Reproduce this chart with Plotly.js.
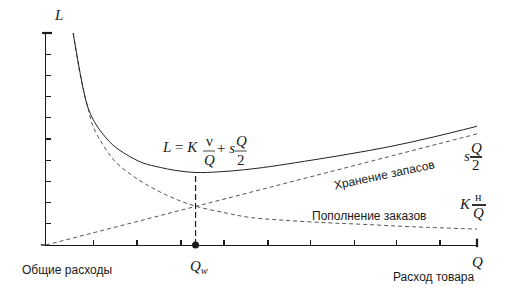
<!DOCTYPE html>
<html>
<head>
<meta charset="utf-8">
<script src="https://cdn.plot.ly/plotly-3.0.1.min.js"></script>
<style>html,body{margin:0;padding:0;background:#fff;}#chart{width:513px;height:290px;}</style>
</head>
<body>
<div id="chart"></div>
<script>
// Total cost curve L (solid)
const Q_TOTAL = [0.63, 0.74, 0.85, 0.97, 1.1, 1.25, 1.55, 1.88, 2.25, 2.65, 3.0, 3.46, 4.0, 4.6, 5.2, 6.0, 7.0, 8.0, 9.0, 10.0];
const L_TOTAL = [10.0, 8.7, 7.5, 6.5, 5.9, 5.42, 4.72, 4.25, 3.87, 3.66, 3.52, 3.42, 3.45, 3.55, 3.7, 3.95, 4.28, 4.65, 5.1, 5.6];
// Ordering cost curve K*н/Q (dashed)
const Q_ORDER = [0.63, 0.75, 0.87, 0.97, 1.09, 1.3, 1.6, 2.13, 2.8, 3.46, 4.2, 4.73, 5.5, 6.5, 7.3, 8.5, 10.0];
const L_ORDER = [10.0, 8.5, 7.3, 6.5, 5.6, 4.8, 3.95, 3.1, 2.35, 1.84, 1.5, 1.3, 1.17, 1.05, 0.98, 0.86, 0.75];
// Storage cost line sQ/2 (dashed)
const Q_STORE = [0, 10];
const L_STORE = [0, 5.24];
// Optimum order quantity
const Q_OPT = [3.47, 3.47];
const L_OPT = [0, 3.42];
// Ticks
const X_TICKS = [1.11, 2.11, 3.13, 4.13, 5.15, 6.13, 7.15, 8.14, 9.14];
const Y_TICKS = [1, 2, 3, 4, 5, 6, 7, 8, 9];
const X_END = 10, Y_END = 10;

const SERIF = '"Liberation Serif", "DejaVu Serif", serif';
const SANS = '"Liberation Sans", Arial, sans-serif';
const INK = '#1a1a1a';

const traces = [
  {x: Q_STORE, y: L_STORE, mode: 'lines', line: {color: '#555', width: 1, dash: '4px,3px'}, hoverinfo: 'skip'},
  {x: Q_ORDER, y: L_ORDER, mode: 'lines', line: {color: '#555', width: 1, dash: '4px,3px', shape: 'spline'}, hoverinfo: 'skip'},
  {x: Q_TOTAL, y: L_TOTAL, mode: 'lines', line: {color: '#222', width: 1, shape: 'spline'}, hoverinfo: 'skip'},
  {x: Q_OPT, y: L_OPT, mode: 'lines', line: {color: INK, width: 1.2, dash: '6px,3px'}, hoverinfo: 'skip'},
  {x: [Q_OPT[0]], y: [0], mode: 'markers', marker: {color: INK, size: 7}, cliponaxis: false, hoverinfo: 'skip'}
];

// pixel -> paper helpers (plot area: x 46..477, y 33..245)
function px2x(p){ return (p - 46) / 431; }
function px2y(p){ return (245 - p) / 212; }

function txt(text, px, py, opts) {
  opts = opts || {};
  return Object.assign({
    text: text, x: px2x(px), y: px2y(py), xref: 'paper', yref: 'paper',
    showarrow: false, xanchor: 'center', yanchor: 'middle',
    font: {family: SERIF, size: 15, color: INK}
  }, opts);
}
function bar(x0, x1, py, w) {
  return {type: 'line', xref: 'paper', yref: 'paper', x0: px2x(x0), x1: px2x(x1), y0: px2y(py), y1: px2y(py),
          line: {color: INK, width: w || 1}};
}

const annotations = [
  txt('<i>L</i>', 52, 15, {xanchor: 'left'}),
  // formula L = K н/Q + s Q/2
  txt('<i>L</i> = <i>K</i>', 200, 147, {xanchor: 'right'}),
  txt('ν', 209, 141, {font: {family: SERIF, size: 15, color: INK}}),
  txt('<i>Q</i>', 209, 160),
  txt('+ <i>s</i>', 226, 148),
  txt('<i>Q</i>', 241, 141),
  txt('2', 241, 160),
  // s Q/2 label
  txt('<i>s</i>', 467, 156),
  txt('<i>Q</i>', 476, 148),
  txt('2', 476, 165),
  // K н/Q label
  txt('<i>K</i>', 465, 204),
  txt('н', 479, 197, {font: {family: SERIF, size: 12, color: INK}}),
  txt('<i>Q</i>', 479, 213),
  // axis annotations
  txt('<i>Q</i><sub><i>w</i></sub>', 199, 267),
  txt('<i>Q</i>', 477, 262),
  txt('Расход товара', 477, 277, {xanchor: 'right', font: {family: SANS, size: 12, color: INK}}),
  txt('Общие расходы', 67, 270, {font: {family: SANS, size: 12, color: INK}}),
  // curve labels
  txt('Хранение запасов', 384, 175, {textangle: -12, font: {family: SANS, size: 12, color: INK}}),
  txt('Пополнение заказов', 369, 216, {font: {family: SANS, size: 12, color: INK}})
];

const shapes = [
  bar(203, 215, 151, 0.8),
  bar(235, 247, 151, 0.8),
  bar(470, 482, 157, 1.8),
  bar(472, 486, 205, 1.8),
  // thick axis ends
  {type: 'line', xref: 'paper', yref: 'paper', x0: -0.009, x1: 0.014, y0: 1, y1: 1, line: {color: INK, width: 2.2}},
  {type: 'line', xref: 'paper', yref: 'paper', x0: 1, x1: 1, y0: -0.01, y1: 0.03, line: {color: INK, width: 2.2}},
  {type: 'line', xref: 'paper', yref: 'paper', x0: -0.012, x1: 0, y0: 0, y1: 0, line: {color: INK, width: 1.4}}
];

const layout = {
  width: 513, height: 290,
  margin: {l: 46, r: 36, t: 33, b: 45},
  paper_bgcolor: '#fff', plot_bgcolor: '#fff',
  showlegend: false,
  xaxis: {range: [0, X_END], showgrid: false, zeroline: false, showline: true, linecolor: INK, linewidth: 1.4,
          ticks: 'inside', ticklen: 5, tickwidth: 1.2, tickcolor: INK, tickmode: 'array', tickvals: X_TICKS, showticklabels: false, fixedrange: true},
  yaxis: {range: [0, Y_END], showgrid: false, zeroline: false, showline: true, linecolor: INK, linewidth: 1.4,
          ticks: 'inside', ticklen: 5, tickwidth: 1.2, tickcolor: INK, tickmode: 'array', tickvals: Y_TICKS, showticklabels: false, fixedrange: true},
  annotations: annotations,
  shapes: shapes
};

Plotly.newPlot('chart', traces, layout, {staticPlot: true, displayModeBar: false});
</script>
</body>
</html>
